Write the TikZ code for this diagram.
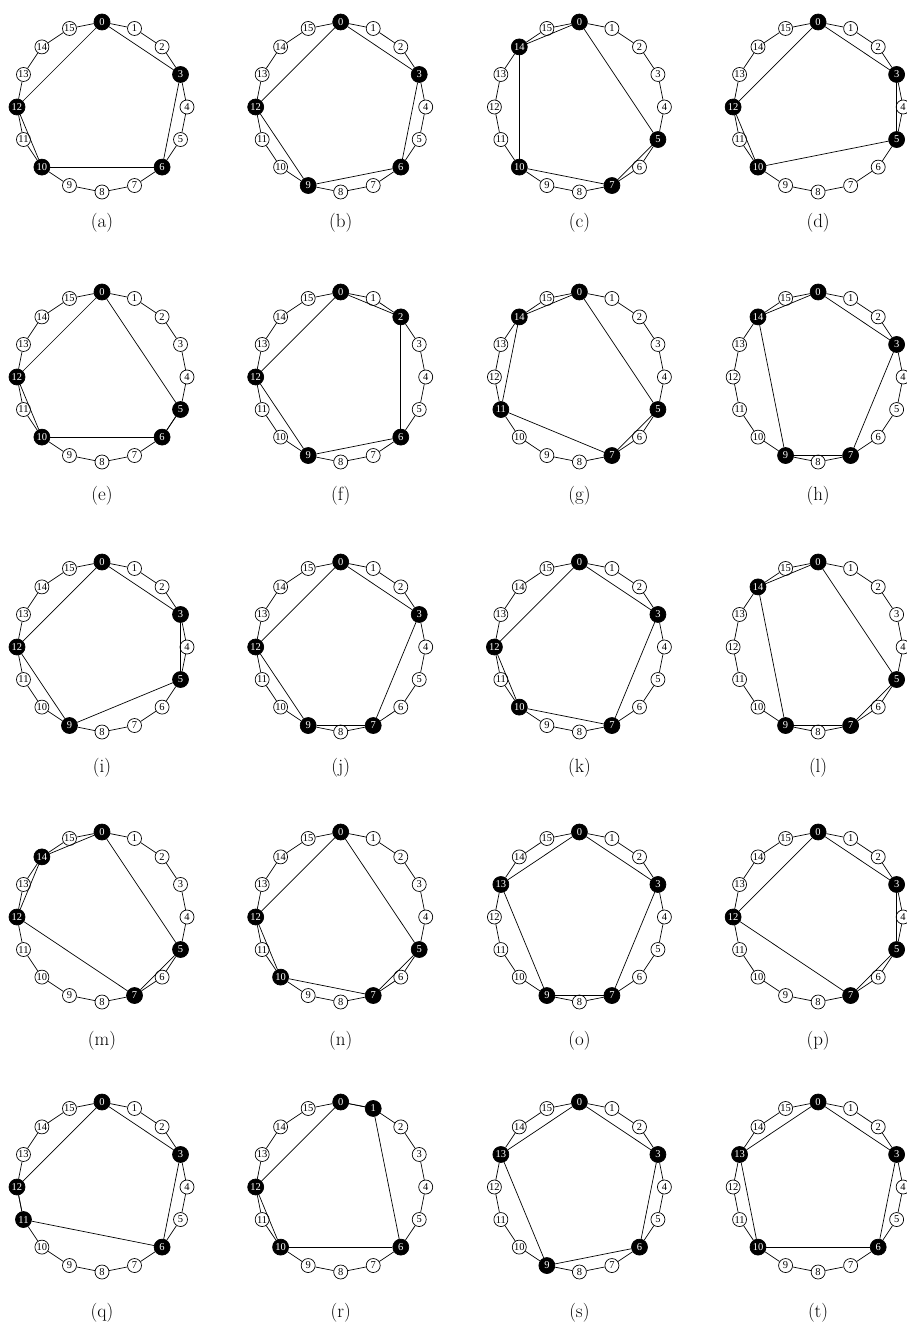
\documentclass[tikz,border=0pt]{standalone}
\usepackage{fontspec}
\newfontfamily\numfont{Liberation Serif}
\usetikzlibrary{calc}

\begin{document}
\begin{tikzpicture}[
    x=1pt, y=-1pt,
    vertex/.style={draw, circle, fill=white, minimum size=14pt, inner sep=0pt, line width=0.7pt, font=\numfont\fontsize{10.5}{11}\selectfont},
    chosen/.style={vertex, fill=black, text=white, minimum size=16pt},
    ring/.style={line width=0.7pt},
    chord/.style={line width=0.7pt},
    caption/.style={font=\fontsize{19}{22}\selectfont},
]
\useasboundingbox (0,0) rectangle (906,1327);

% Subfigures (a)--(t): chosen vertices after vertex 0
\foreach \lbl/\blk [count=\i from 0] in {
    a/{3,6,10,12}, b/{3,6,9,12}, c/{5,7,10,14}, d/{3,5,10,12},
    e/{5,6,10,12}, f/{2,6,9,12}, g/{5,7,11,14}, h/{3,7,9,14},
    i/{3,5,9,12}, j/{3,7,9,12}, k/{3,7,10,12}, l/{5,7,9,14},
    m/{5,7,12,14}, n/{5,7,10,12}, o/{3,7,9,13}, p/{3,5,7,12},
    q/{3,6,11,12}, r/{1,6,10,12}, s/{3,6,9,13}, t/{3,6,10,13}} {
  \pgfmathsetmacro\cx{102+238.7*mod(\i,4)}
  \pgfmathsetmacro\cy{107+270*int(\i/4)}
  \pgfmathsetmacro\ly{\cy+116+2.5*int(\i/4)}

  % Vertices
  \foreach \n in {0,...,15}
    \node[vertex] (\lbl-\n) at ({\cx+85*sin(22.5*\n)}, {\cy-85*cos(22.5*\n)}) {\n};
  \node[chosen] (\lbl-0) at (\cx, {\cy-85}) {0};
  \foreach \x in \blk
    \node[chosen] (\lbl-\x) at ({\cx+85*sin(22.5*\x)}, {\cy-85*cos(22.5*\x)}) {\x};

  % Ring edges
  \foreach \n in {0,...,15} {
    \pgfmathtruncatemacro\m{mod(\n+1,16)}
    \draw[ring] (\lbl-\n) -- (\lbl-\m);
  }

  % Chords between chosen vertices
  \foreach \x [remember=\x as \p (initially 0), count=\j] in \blk {
    \draw[chord] (\lbl-\p) -- (\lbl-\x);
    \ifnum\j=4 \draw[chord] (\lbl-\x) -- (\lbl-0); \fi
  }

  % Caption
  \node[caption] (cap-\lbl) at (\cx, \ly) {(\lbl)};
}

\end{tikzpicture}
\end{document}
